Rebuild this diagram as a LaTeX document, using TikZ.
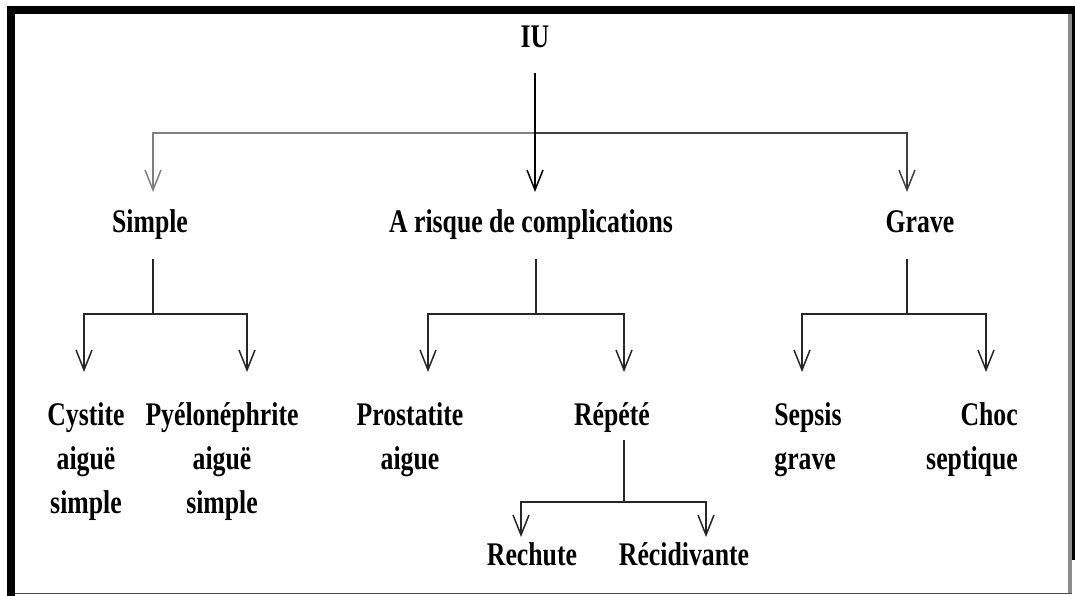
\documentclass[tikz,border=0pt]{standalone}
\usepackage{fontspec}
\setmainfont{Liberation Serif}[FakeStretch=0.78]
\usetikzlibrary{arrows.meta,positioning}

\tikzset{
  txt/.style={inner sep=0pt, anchor=base, align=center, font=\fontsize{33}{44}\selectfont\bfseries},
  link/.style={line width=1.5pt, black!85},
  arr/.style={link, -{Straight Barb[length=20pt,width=16pt,line width=1.5pt]}},
}

\begin{document}
\begin{tikzpicture}[x=1pt,y=-1pt]
\useasboundingbox (0,0) rectangle (1075,596);
% frame
\fill (7,6) rectangle (1075,14);
\fill (7,6) rectangle (15,596);
\fill[black!45] (1068,14) rectangle (1072,593);
\fill (1072,6) rectangle (1075,560);
\fill[black!70] (15,592.5) rectangle (1072,594);
% texts (base = last line)
\node[txt] (iu) at (535,48) {IU};
\node[txt] (simple) at (150,232) {Simple};
\node[txt] (risque) at (531,232) {A risque de complications};
\node[txt] (grave) at (920,232) {Grave};
\node[txt] (cystite) at (86,513) {Cystite\\aiguë\\simple};
\node[txt] (pyelo) at (222,513) {Pyélonéphrite\\aiguë\\simple};
\node[txt] (prost) at (410,469) {Prostatite\\aigue};
\node[txt] (repete) at (612,425) {Répété};
\node[txt,align=left] (sepsis) at (808,469) {Sepsis\\grave};
\node[txt,align=right] (choc) at (972,469) {Choc\\septique};
\node[txt] (rechute) at (532,565) {Rechute};
\node[txt] (recid) at (684,565) {Récidivante};
% junctions
\coordinate (iu-out) at (535,73);
\coordinate (simple-in) at (153,192);
\coordinate (risque-in) at (535,192);
\coordinate (grave-in) at (907,192);
\coordinate (simple-out) at (153,259);
\coordinate (risque-out) at (536,259);
\coordinate (grave-out) at (907,259);
\coordinate (repete-out) at (624,440);
\coordinate (cystite-in) at (84,372);
\coordinate (pyelo-in) at (247,372);
\coordinate (prost-in) at (428,372);
\coordinate (repete-in) at (624,372);
\coordinate (sepsis-in) at (802,372);
\coordinate (choc-in) at (986,372);
\coordinate (rechute-in) at (521,537);
\coordinate (recid-in) at (706,537);
% IU
\draw[arr,black!50] (iu-out) ++(0,60) -| (simple-in);
\draw[arr,black!75] (iu-out) ++(0,60) -| (grave-in);
\draw[arr,black] (iu-out) -- (risque-in);
% Simple
\draw[arr] (simple-out) -- ++(0,55) -| (cystite-in);
\draw[arr] (simple-out) -- ++(0,55) -| (pyelo-in);
% A risque de complications
\draw[arr] (risque-out) -- ++(0,55) -| (prost-in);
\draw[arr] (risque-out) -- ++(0,55) -| (repete-in);
% Grave
\draw[arr] (grave-out) -- ++(0,55) -| (sepsis-in);
\draw[arr] (grave-out) -- ++(0,55) -| (choc-in);
% Repete
\draw[arr] (repete-out) -- ++(0,62) -| (rechute-in);
\draw[arr] (repete-out) -- ++(0,62) -| (recid-in);
\end{tikzpicture}
\end{document}
